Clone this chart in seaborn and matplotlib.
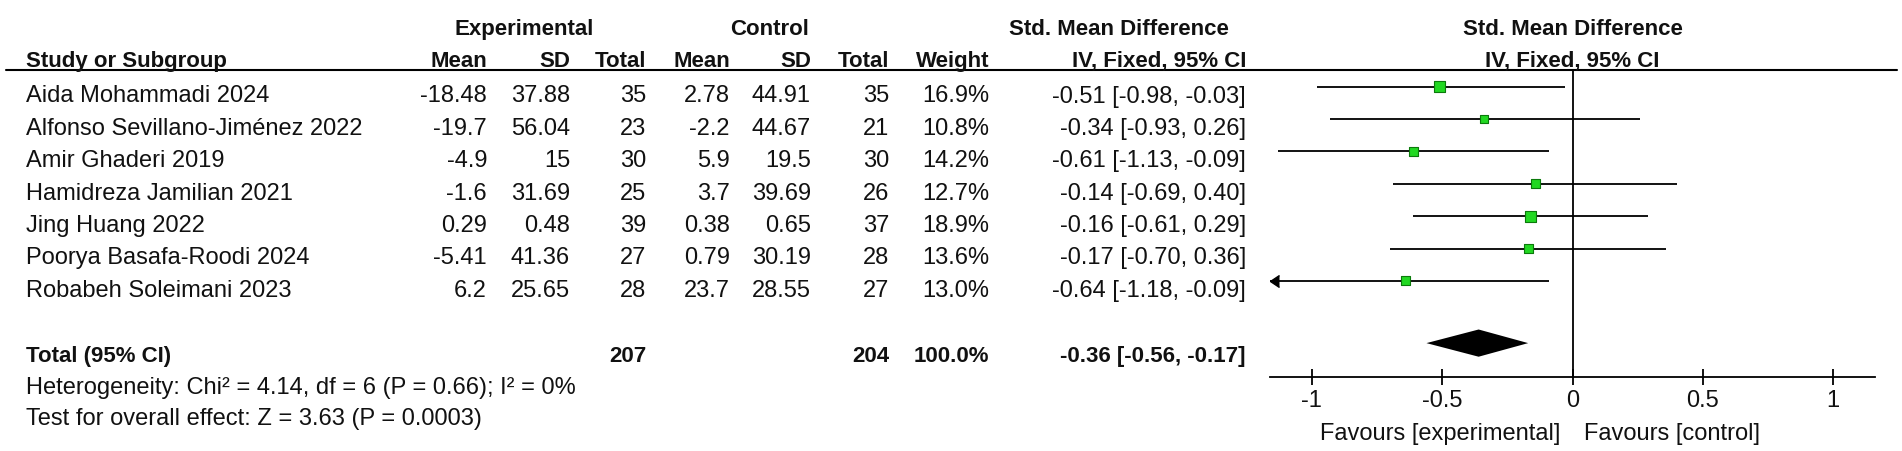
import matplotlib
matplotlib.use("Agg")
import matplotlib.pyplot as plt
import matplotlib.transforms as mtransforms
import seaborn as sns
import pandas as pd
import numpy as np

# data
studies = ["Aida Mohammadi 2024", "Alfonso Sevillano-Jiménez 2022", "Amir Ghaderi 2019",
           "Hamidreza Jamilian 2021", "Jing Huang 2022", "Poorya Basafa-Roodi 2024",
           "Robabeh Soleimani 2023"]
exp_mean = [-18.48, -19.7, -4.9, -1.6, 0.29, -5.41, 6.2]
exp_sd = [37.88, 56.04, 15, 31.69, 0.48, 41.36, 25.65]
exp_n = [35, 23, 30, 25, 39, 27, 28]
ctrl_mean = [2.78, -2.2, 5.9, 3.7, 0.38, 0.79, 23.7]
ctrl_sd = [44.91, 44.67, 19.5, 39.69, 0.65, 30.19, 28.55]
ctrl_n = [35, 21, 30, 26, 37, 28, 27]
weight = [16.9, 10.8, 14.2, 12.7, 18.9, 13.6, 13.0]
smd = [-0.51, -0.34, -0.61, -0.14, -0.16, -0.17, -0.64]
ci_lo = [-0.98, -0.93, -1.13, -0.69, -0.61, -0.70, -1.18]
ci_hi = [-0.03, 0.26, -0.09, 0.40, 0.29, 0.36, -0.09]

total_exp_n = 207
total_ctrl_n = 204
total_weight = 100.0
total_smd = -0.36
total_lo = -0.56
total_hi = -0.17
het_text = "Heterogeneity: Chi² = 4.14, df = 6 (P = 0.66); I² = 0%"
effect_text = "Test for overall effect: Z = 3.63 (P = 0.0003)"

xticks = [-1, -0.5, 0, 0.5, 1]
xtick_labels = ["-1", "-0.5", "0", "0.5", "1"]

sns.set_style("white")
plt.rcParams["font.family"] = ["Liberation Sans", "DejaVu Sans"]
plt.rcParams["text.color"] = "#111111"

W, H = 1902, 452
fig = plt.figure(figsize=(W / 100, H / 100), dpi=100)

# row layout in pixels
row0, step = 87.5, 32.4
top_px, axis_px = 71, 378
xl, xr = 1270, 1875
xmin, xmax = -1.16, 1.16


def rpx(r):
    return row0 + step * r


tab = fig.add_axes([0, 0, 1, 1])
tab.set_xlim(0, W)
tab.set_ylim(H, 0)
tab.axis("off")

ax = fig.add_axes([xl / W, 1 - axis_px / H, (xr - xl) / W, (axis_px - top_px) / H])
ax.patch.set_alpha(0)

FS = 17


def put(x, y, s, ha="right", bold=False, size=FS, trans=None):
    tab.text(x, y, s, ha=ha, va="baseline", fontsize=size,
             fontweight="bold" if bold else "normal",
             transform=trans if trans is not None else tab.transData)


def base(r):
    return rpx(r) + 15


cols = [487, 570, 646, 730, 811, 889, 989, 1246]
h1, h2 = 35, 67

# headers
put(524, h1, "Experimental", ha="center", bold=True, size=16)
put(770, h1, "Control", ha="center", bold=True, size=16)
put(1119, h1, "Std. Mean Difference", ha="center", bold=True, size=16)
put(26, h2, "Study or Subgroup", ha="left", bold=True, size=16)
for x, s in zip(cols, ["Mean", "SD", "Total", "Mean", "SD", "Total", "Weight",
                       "IV, Fixed, 95% CI"]):
    put(x, h2, s, bold=True, size=16)
tab.axhline(top_px, xmin=6 / W, xmax=1897 / W, color="black", lw=1.5)

# study rows
for i, name in enumerate(studies):
    put(26, base(i), name, ha="left")
    vals = [f"{exp_mean[i]:g}", f"{exp_sd[i]:g}", f"{exp_n[i]}",
            f"{ctrl_mean[i]:g}", f"{ctrl_sd[i]:g}", f"{ctrl_n[i]}",
            f"{weight[i]:.1f}%",
            f"{smd[i]:.2f} [{ci_lo[i]:.2f}, {ci_hi[i]:.2f}]"]
    for x, s in zip(cols, vals):
        put(x, base(i), s)

tr = len(studies) + 1
put(26, base(tr), "Total (95% CI)", ha="left", bold=True, size=16)
put(cols[2], base(tr), f"{total_exp_n}", bold=True, size=16)
put(cols[5], base(tr), f"{total_ctrl_n}", bold=True, size=16)
put(cols[6], base(tr), f"{total_weight:.1f}%", bold=True, size=16)
put(cols[7], base(tr), f"{total_smd:.2f} [{total_lo:.2f}, {total_hi:.2f}]",
    bold=True, size=16)
put(26, base(tr + 1), het_text, ha="left")
put(26, base(tr + 2) - 1, effect_text, ha="left")

# forest panel
rows = np.arange(len(studies))
df = pd.DataFrame({"smd": smd, "row": rows, "weight": weight,
                   "lo": ci_lo, "hi": ci_hi})
ax.hlines(df["row"], np.maximum(df["lo"], xmin), np.minimum(df["hi"], xmax),
          color="black", lw=1.3, zorder=2)
cut = df[df["lo"] < xmin]
ax.plot(np.full(len(cut), xmin), cut["row"], ls="none", marker=4, ms=9,
        color="black", clip_on=False, zorder=2)
sns.scatterplot(data=df, x="smd", y="row", size="weight", sizes=(0, 66),
                size_norm=(0, 20), marker="s", color="#22d822",
                edgecolor="#0b7a0b", linewidth=0.8, legend=False, ax=ax, zorder=3)

dy = 0.42
dr = tr - 0.08
ax.fill([total_lo, total_smd, total_hi, total_smd], [dr, dr - dy, dr, dr + dy],
        color="black", lw=0, zorder=3)
ax.axvline(0, color="black", lw=1.3, zorder=1)

ax.set_xlim(xmin, xmax)
ax.set_ylim((axis_px - row0) / step, (top_px - row0) / step)
ax.set_yticks([])
ax.set_xlabel("")
ax.set_ylabel("")
ax.set_xticks(xticks)
ax.set_xticklabels(xtick_labels, fontsize=17, color="#111111")
ax.tick_params(axis="x", direction="inout", length=11, width=1.3, pad=3,
               bottom=True, colors="black", labelcolor="#111111")
for side in ["top", "left", "right"]:
    ax.spines[side].set_visible(False)
ax.spines["bottom"].set_color("black")
ax.spines["bottom"].set_linewidth(1.3)

# forest headers and favour labels
bt = mtransforms.blended_transform_factory(ax.transData, tab.transData)
put(0, h1, "Std. Mean Difference", ha="center", bold=True, size=16, trans=bt)
put(0, h2, "IV, Fixed, 95% CI", ha="center", bold=True, size=16, trans=bt)
put(-0.045, 440, "Favours [experimental]", ha="right", trans=bt)
put(0.045, 440, "Favours [control]", ha="left", trans=bt)

fig.savefig("out.png", dpi=100)
